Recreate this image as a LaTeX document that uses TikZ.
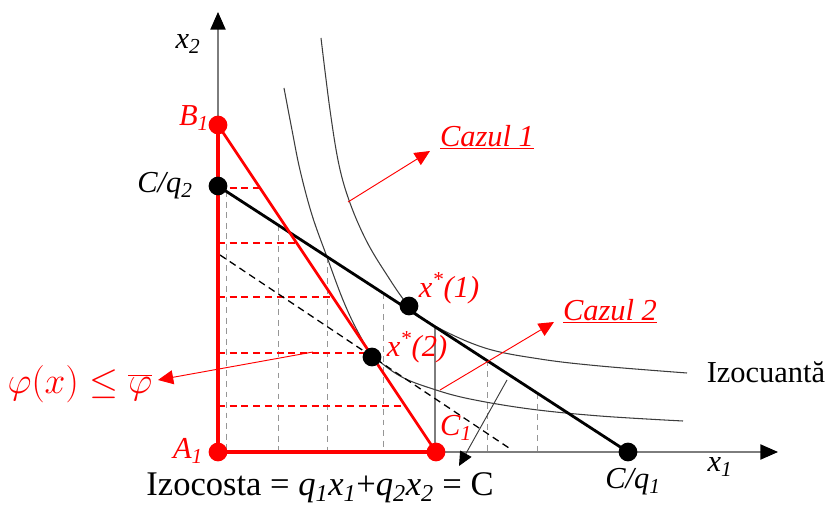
\documentclass[tikz,border=0pt]{standalone}
\usepackage{graphicx}
\usepackage{fontspec}
\setmainfont{Liberation Serif}
\usetikzlibrary{arrows.meta}
\definecolor{axgray}{RGB}{125,125,125}
\definecolor{curvegray}{RGB}{60,60,60}
\definecolor{gridgray}{RGB}{150,150,150}
\definecolor{pred}{RGB}{255,0,0}
\begin{document}
\begin{tikzpicture}[x=0.03cm,y=-0.03cm,
  axisline/.style={draw=axgray,line width=1pt,-{Triangle[length=15pt,width=13pt,color=black]}},
  griddash/.style={draw=gridgray,line width=0.8pt,dash pattern=on 5pt off 4pt},
  reddash/.style={draw=pred,line width=1.3pt,dash pattern=on 6pt off 4pt},
  isoq/.style={draw=curvegray,line width=0.9pt},
  budget/.style={draw=black,line width=2.4pt},
  redthick/.style={draw=pred,line width=3pt},
  redhyp/.style={draw=pred,line width=2.3pt},
  redarrow/.style={draw=pred,line width=0.8pt,-{Triangle[length=13pt,width=12pt,color=pred]}},
  grayarrow/.style={draw=curvegray,line width=0.8pt,-{Triangle[length=12pt,width=11pt,color=black]}},
  bdot/.style={circle,fill=black,inner sep=0pt,minimum size=16pt},
  rdot/.style={circle,fill=pred,inner sep=0pt,minimum size=16pt},
  lbl/.style={font=\fontsize{26}{30}\selectfont,inner sep=0pt},
  rlbl/.style={lbl,text=pred},
]
\useasboundingbox (0,0) rectangle (829,506);

% key points
\coordinate (pB1) at (218,125);
\coordinate (pA1) at (218,452);
\coordinate (pC1) at (436,452);
\coordinate (pCq2) at (218,186);
\coordinate (pCq1) at (628,452);
\coordinate (pX1) at (409,306);
\coordinate (pX2) at (372,357);
\coordinate (yend) at (218,12);
\coordinate (xend) at (778,452);

% vertical grey dashed grid (from budget line to axis)
\foreach \x in {226,278,327,383,487,537}
  \draw[griddash] (\x,{186+0.6488*(\x-218)}) -- (\x,452);
% solid grey vertical
\coordinate (vtop) at (435,{186+0.6488*(435-218)});
\coordinate (vbot) at (435,452);
\draw[draw=axgray,line width=1pt] (vtop) -- (vbot);

% red dashed horizontals (from axis to red line)
\foreach \y in {188,243,297,353,406}
  \draw[reddash] (218,\y) -- ({218+(\y-125)/1.5},\y);

% isoquants
\draw[isoq] plot[smooth,tension=0.6] coordinates {(321,38) (330,110) (339,165) (350,203) (366,240) (385,272) (409,306) (435,326) (485,348) (540,359) (600,366) (687,373)};
\draw[isoq] plot[smooth,tension=0.6] coordinates {(284,88) (292,130) (300,170) (312,215) (327,257) (343,300) (358,332) (373,355) (400,376) (433,389) (470,399) (530,409) (600,416) (683,421)};

% dashed black parallel line
\coordinate (dA) at (220,255);
\coordinate (dB) at (512,450);
\draw[draw=black,line width=1.1pt,dash pattern=on 6pt off 4pt] (dA) -- (dB);

% axes
\draw[axisline] (pA1) -- (yend);
\draw[axisline] (pA1) -- (xend);

% budget line
\draw[budget] (pCq2) -- (pCq1);

% red triangle
\draw[redthick] (pB1) -- (pA1) -- (pC1);
\draw[redhyp] (pB1) -- (pC1);

% grey arrow
\coordinate (gaS) at (507,380);
\coordinate (gaE) at (459,466);
\draw[grayarrow] (gaS) -- (gaE);

% red arrows
\coordinate (c1S) at (348,202);
\coordinate (c1E) at (430,151);
\draw[redarrow] (c1S) -- (c1E);
\coordinate (c2S) at (440,390);
\coordinate (c2E) at (554,322);
\draw[redarrow] (c2S) -- (c2E);
\coordinate (phS) at (313,352);
\coordinate (phE) at (158,380);
\draw[redarrow] (phS) -- (phE);

% dots
\node[bdot] (Cq2) at (pCq2) {};
\node[bdot] (Cq1) at (pCq1) {};
\node[bdot] (X1) at (pX1) {};
\node[bdot] (X2) at (pX2) {};
\node[rdot] (B1) at (pB1) {};
\node[rdot] (A1) at (pA1) {};
\node[rdot] (C1) at (pC1) {};

% labels
\node[lbl] (lx2) at (188,44) {\textit{x}\textsubscript{\textit{2}}};
\node[lbl] (lx1) at (720,467) {\textit{x}\textsubscript{\textit{1}}};
\node[rlbl] (lB1) at (194,118) {\textit{B}\textsubscript{\textit{1}}};
\node[rlbl] (lA1) at (188,451) {\textit{A}\textsubscript{\textit{1}}};
\node[rlbl] (lC1) at (456,428) {\textit{C}\textsubscript{\textit{1}}};
\node[lbl] (lCq2) at (165,186) {\textit{C/q}\textsubscript{\textit{2}}};
\node[lbl] (lCq1) at (633,482) {\textit{C/q}\textsubscript{\textit{1}}};
\node[rlbl] (lX1) at (449,288) {\textit{x}\textsuperscript{\textit{*}}\textit{(1)}};
\node[rlbl] (lX2) at (417,347) {\textit{x}\textsuperscript{\textit{*}}\textit{(2)}};
\node[rlbl] (lCaz1) at (487,137) {\underline{\textit{Cazul 1}}};
\node[rlbl] (lCaz2) at (610,311) {\underline{\textit{Cazul 2}}};
\node[lbl] (lIzq) at (766,372) {Izocuantă};
\node[lbl,font=\fontsize{29.5}{34}\selectfont] (lIzc) at (320,488) {Izocosta = \textit{q}\textsubscript{\textit{1}}\textit{x}\textsubscript{\textit{1}}+\textit{q}\textsubscript{\textit{2}}\textit{x}\textsubscript{\textit{2}} = C};
\node[rlbl] (lphi) at (80,384) {\scalebox{1.28}{$\varphi(x)\leq\overline{\varphi}$}};
\end{tikzpicture}
\end{document}
